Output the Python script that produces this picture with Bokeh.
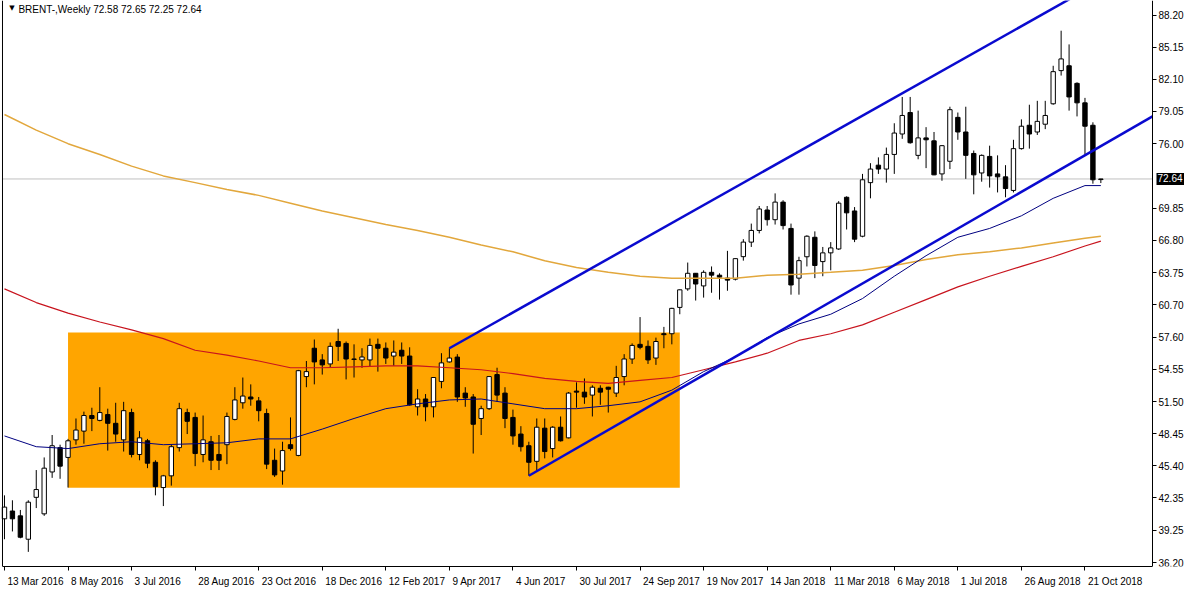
from bokeh.plotting import figure
from bokeh.models import (Range1d, FixedTicker, PrintfTickFormatter, Label, Span,
                          LinearAxis)
from bokeh.embed import file_html
from bokeh.resources import INLINE

# ---------------- data (weekly candles, week 0 = 13 Mar 2016) ----------------
opens = [40.36, 41.10, 40.64, 38.42, 42.40, 40.83, 44.81, 47.12, 46.19, 47.86,
         48.69, 50.17, 49.71, 50.26, 49.43, 47.86, 50.45, 46.47, 47.77, 45.73,
         43.33, 44.44, 47.12, 50.45, 49.99, 46.47, 47.68, 46.47, 47.40, 49.80,
         51.38, 51.93, 51.56, 50.36, 45.92, 44.90, 47.40, 46.38, 53.87, 56.56,
         55.45, 55.07, 57.20, 57.02, 55.54, 55.45, 55.45, 56.93, 56.56, 55.82,
         56.37, 55.82, 51.00, 51.74, 51.00, 53.41, 55.26, 55.72, 52.30, 51.93,
         49.89, 50.82, 54.06, 52.30, 49.99, 48.41, 47.30, 45.82, 48.97, 47.03,
         49.06, 48.05, 52.49, 52.39, 52.11, 52.76, 52.86, 52.30, 53.87, 55.54,
         56.93, 56.74, 55.63, 57.94, 57.94, 60.44, 62.20, 63.68, 62.48, 63.77,
         63.50, 63.22, 63.12, 65.26, 66.64, 67.75, 69.69, 68.77, 70.44, 67.94,
         63.22, 65.25, 67.10, 64.79, 65.62, 65.99, 70.90, 69.60, 67.20, 72.29,
         73.95, 73.58, 74.97, 76.91, 78.95, 74.88, 76.54, 76.26, 73.12, 74.32,
         78.49, 77.10, 75.06, 73.21, 74.78, 73.12, 72.84, 71.55, 75.52, 77.74,
         77.10, 77.84, 79.78, 82.93, 83.39, 81.72, 79.87, 77.74, 72.58]
highs = [42.59, 42.12, 41.20, 42.12, 44.99, 46.19, 48.32, 47.40, 47.95, 49.89,
         50.54, 50.91, 52.86, 50.82, 51.38, 51.47, 50.82, 48.69, 47.95, 45.92,
         44.53, 47.40, 51.38, 50.82, 50.45, 50.17, 48.23, 48.32, 50.45, 52.86,
         53.78, 53.13, 51.93, 50.82, 47.03, 47.68, 49.99, 54.50, 55.35, 57.39,
         56.00, 57.11, 58.41, 57.20, 56.93, 56.56, 57.48, 57.48, 57.11, 57.30,
         57.11, 56.65, 52.67, 52.21, 53.78, 56.09, 56.56, 56.00, 52.86, 52.21,
         51.10, 53.90, 54.71, 52.86, 50.73, 49.16, 47.68, 49.89, 49.89, 49.16,
         50.08, 52.40, 53.32, 53.69, 53.04, 53.04, 52.90, 54.89, 56.00, 57.02,
         59.52, 57.30, 57.57, 58.59, 60.40, 62.15, 64.70, 63.70, 63.96, 64.33,
         63.68, 65.81, 65.10, 66.92, 68.40, 70.07, 70.07, 71.27, 70.62, 68.40,
         65.25, 67.29, 67.66, 66.18, 66.64, 70.53, 70.99, 69.97, 73.12, 74.14,
         74.69, 75.62, 77.93, 80.43, 80.43, 79.13, 77.56, 77.10, 75.85, 79.50,
         78.95, 79.50, 75.34, 74.97, 75.80, 74.88, 73.95, 76.36, 78.30, 79.69,
         80.06, 80.06, 83.39, 86.72, 85.42, 81.82, 80.34, 78.02, 72.65]
lows = [38.42, 39.16, 38.51, 37.22, 41.38, 40.64, 44.25, 44.16, 43.33, 47.40,
        47.49, 48.69, 49.62, 46.84, 47.68, 46.75, 46.19, 45.92, 45.17, 42.59,
        41.57, 43.51, 46.75, 48.41, 45.36, 45.73, 44.99, 44.99, 45.55, 49.71,
        50.82, 51.10, 49.62, 45.08, 44.34, 43.60, 46.84, 46.30, 52.86, 53.13,
        54.06, 54.71, 55.35, 53.60, 53.78, 54.71, 54.80, 54.34, 55.07, 54.89,
        55.07, 51.10, 50.17, 49.62, 49.99, 52.76, 55.20, 51.47, 51.00, 46.56,
        48.32, 50.70, 51.47, 48.97, 47.40, 46.75, 44.45, 44.99, 46.10, 46.19,
        47.70, 48.00, 50.91, 51.28, 50.08, 51.19, 50.45, 51.93, 53.04, 55.07,
        56.46, 55.07, 54.98, 56.56, 56.93, 59.79, 62.02, 61.09, 61.37, 61.83,
        61.18, 62.02, 63.00, 64.88, 66.18, 67.47, 68.21, 68.31, 67.84, 61.65,
        61.65, 64.33, 63.22, 63.40, 63.96, 65.90, 67.84, 66.64, 67.10, 70.80,
        73.12, 72.29, 73.12, 76.45, 75.99, 74.51, 73.67, 73.00, 72.47, 73.58,
        76.36, 72.65, 71.18, 72.38, 71.82, 71.36, 70.90, 71.36, 75.43, 75.52,
        76.82, 77.37, 79.69, 82.46, 79.13, 78.58, 74.97, 72.19, 72.25]
closes = [41.47, 40.36, 38.61, 41.94, 43.14, 45.17, 47.30, 45.36, 47.77, 48.79,
          50.17, 49.89, 50.45, 49.43, 48.41, 50.63, 46.47, 48.05, 45.64, 43.42,
          44.44, 47.21, 50.82, 49.62, 46.56, 47.86, 45.92, 45.92, 50.08, 51.65,
          52.02, 51.74, 50.63, 45.55, 44.53, 46.84, 47.03, 54.43, 54.34, 55.26,
          54.98, 56.74, 56.74, 55.54, 55.50, 55.73, 56.83, 56.56, 55.63, 56.19,
          55.82, 51.19, 51.74, 51.00, 53.78, 55.17, 55.63, 51.93, 51.84, 49.34,
          50.82, 53.87, 52.11, 49.89, 48.23, 47.21, 45.73, 49.06, 46.75, 49.06,
          47.77, 52.30, 52.39, 51.93, 52.86, 52.39, 52.67, 53.78, 55.54, 56.83,
          56.65, 55.45, 57.20, 57.85, 60.35, 62.11, 63.68, 62.66, 63.77, 63.50,
          63.31, 63.03, 65.07, 66.64, 67.75, 69.79, 68.77, 70.44, 68.21, 62.57,
          64.88, 67.20, 64.42, 65.62, 66.09, 70.34, 69.42, 66.92, 72.56, 73.58,
          73.58, 74.97, 77.00, 78.67, 76.08, 76.54, 76.36, 73.03, 75.80, 79.22,
          77.10, 74.88, 73.03, 74.88, 72.93, 72.84, 71.73, 75.52, 77.65, 76.91,
          78.11, 78.67, 82.83, 84.04, 80.43, 79.87, 77.65, 72.56, 72.64]
weeks = list(range(len(closes)))

# date axis labels (one every 8 weeks)
tick_weeks = list(range(0, 137, 8))
tick_labels = ["13 Mar 2016", "8 May 2016", "3 Jul 2016", "28 Aug 2016",
               "23 Oct 2016", "18 Dec 2016", "12 Feb 2017", "9 Apr 2017",
               "4 Jun 2017", "30 Jul 2017", "24 Sep 2017", "19 Nov 2017",
               "14 Jan 2018", "11 Mar 2018", "6 May 2018", "1 Jul 2018",
               "26 Aug 2018", "21 Oct 2018"]

# price axis labels
price_ticks = [88.20, 85.15, 82.10, 79.05, 76.00, 69.85, 66.80, 63.75,
               60.70, 57.60, 54.55, 51.50, 48.45, 45.40, 42.35, 39.25, 36.20]

# moving averages (read every 4 weeks)
ma_weeks = list(range(0, 137, 4)) + [138]
ma_gold = [78.76, 77.28, 75.99, 74.97, 73.86, 72.93, 72.29, 71.64, 71.08, 70.34,
           69.60, 68.95, 68.31, 67.75, 67.10, 66.36, 65.72, 64.88, 64.24, 63.77,
           63.40, 63.22, 63.22, 63.22, 63.50, 63.59, 63.77, 63.96, 64.42, 64.98,
           65.44, 65.72, 66.09, 66.55, 67.01, 67.20]
ma_red = [62.20, 60.90, 59.89, 59.05, 58.31, 57.48, 56.37, 55.91, 55.35, 54.71,
          54.71, 54.80, 54.89, 54.89, 54.71, 54.52, 54.15, 53.69, 53.41, 53.22,
          53.50, 53.78, 54.52, 55.26, 56.09, 57.30, 57.94, 58.78, 59.98, 61.18,
          62.39, 63.40, 64.33, 65.25, 66.27, 66.73]
ma_blue = [48.23, 47.21, 47.03, 47.49, 47.68, 47.40, 47.49, 47.58, 47.95, 47.95,
           48.88, 49.89, 50.82, 51.28, 51.65, 51.74, 51.28, 50.82, 50.82, 51.10,
           51.47, 52.58, 54.34, 55.72, 57.57, 58.87, 59.79, 61.28, 63.40, 65.35,
           67.10, 67.94, 69.14, 70.80, 72.01, 72.01]

# drawn objects
box_weeks = [8, 85]
box_prices = [43.30, 58.05]
upper_anchor_weeks = [56, 74.5]
upper_anchor_prices = [56.56, 64.42]
lower_anchor_weeks = [66, 144.5]
lower_anchor_prices = [44.45, 78.58]
last_price = 72.64

# ---------------- figure ----------------
FONT = "Liberation Sans"
XS = -0.5                      # canvas left edge (weeks)
XL, XB = -0.25, 144.5          # chart left border / price-scale border (weeks)
CANVAS_W = 1184
BORDER_PX = 1152                # where the price scale begins
PX_PER_WEEK = BORDER_PX / (XB - XS)
X1 = XS + CANVAS_W / PX_PER_WEEK
Y0, Y1 = 35.83, 89.59

p = figure(frame_width=CANVAS_W, frame_height=566, output_backend="svg",
           toolbar_location=None, x_range=Range1d(XS, X1),
           y_range=Range1d(Y0, Y1), y_axis_location="right",
           min_border_left=0, min_border_top=0, min_border_right=0,
           min_border_bottom=0)
p.xgrid.visible = False
p.ygrid.visible = False
p.outline_line_color = None
p.background_fill_color = "white"
p.border_fill_color = "white"

# left border of the chart window
p.add_layout(Span(location=XL, dimension="height", line_color="black",
                  line_width=1))

# orange rectangle
p.quad(left=[box_weeks[0]], right=[box_weeks[1]], bottom=[box_prices[0]],
       top=[box_prices[1]], fill_color="#FFA500", line_color=None)

# last price line (stops at the price scale)
p.line([XL, XB], [last_price, last_price], line_color="#C0C0C0", line_width=1)

# candles
bull = [c >= o for o, c in zip(opens, closes)]
tops = [max(o, c) for o, c in zip(opens, closes)]
bots = [min(o, c) for o, c in zip(opens, closes)]
fills = ["white" if b else "black" for b in bull]
p.segment(x0=weeks, y0=lows, x1=weeks, y1=highs, line_color="black", line_width=1)
p.vbar(x=weeks, width=0.55, top=tops, bottom=bots, fill_color=fills,
       line_color="black", line_width=1)

# moving averages
p.line(ma_weeks, ma_gold, line_color="#E2A73C", line_width=1.5)
p.line(ma_weeks, ma_red, line_color="#C8141E", line_width=1.2)
p.line(ma_weeks, ma_blue, line_color="#000080", line_width=1)

# channel lines (rays extended to the price scale)
def ray(wk, pr, end_week):
    slope = (pr[1] - pr[0]) / (wk[1] - wk[0])
    return [wk[0], end_week], [pr[0], pr[0] + slope * (end_week - wk[0])]

ux, uy = ray(upper_anchor_weeks, upper_anchor_prices, XB)
lx, ly = ray(lower_anchor_weeks, lower_anchor_prices, XB)
p.line(ux, uy, line_color="#0A0ACF", line_width=2.5)
p.line(lx, ly, line_color="#0A0ACF", line_width=2.5)

# ---- x axis: tick marks at the bar, label text starting just right of it ----
xa = p.xaxis[0]
xa.ticker = FixedTicker(ticks=tick_weeks)
xa.bounds = (XL, XB)
xa.major_label_overrides = {w: "" for w in tick_weeks}
xa.major_label_text_font_size = "1px"
xa.major_label_standoff = 0
xa.minor_tick_line_color = None
xa.major_tick_in = 0
xa.major_tick_out = 4
xa.axis_line_color = "black"

# approximate text widths (Liberation Sans 10px) to left-align the labels
CW = {"M": 8.33, "J": 5.0, "A": 6.67, "O": 7.78, "D": 7.22, "F": 6.11,
      "S": 6.67, "N": 7.22, "a": 5.56, "r": 3.33, "y": 5.0, "u": 5.56,
      "l": 2.22, "g": 5.56, "c": 5.0, "t": 2.78, "e": 5.56, "b": 5.56,
      "p": 5.56, "o": 5.56, "v": 5.0, "n": 5.56, " ": 2.78}
def text_w(s):
    return sum(CW.get(ch, 5.56) for ch in s)

label_pos = [w + (3 + text_w(s) / 2) / PX_PER_WEEK
             for w, s in zip(tick_weeks, tick_labels)]
xb = LinearAxis(ticker=FixedTicker(ticks=label_pos),
                major_label_overrides={lp: s for lp, s in zip(label_pos, tick_labels)},
                major_tick_line_color=None, minor_tick_line_color=None,
                axis_line_color=None, major_label_standoff=-1,
                major_label_text_font=FONT, major_label_text_font_size="10px",
                major_label_text_color="black")
p.add_layout(xb, "below")

# ---- price axis, drawn at the chart border ----
ya = p.yaxis[0]
ya.fixed_location = XB
ya.ticker = FixedTicker(ticks=price_ticks)
ya.formatter = PrintfTickFormatter(format="%.2f")
ya.minor_tick_line_color = None
ya.major_tick_in = 0
ya.major_tick_out = 4
ya.axis_line_color = "black"
ya.major_label_standoff = 2
ya.major_label_text_font = FONT
ya.major_label_text_font_size = "10px"
ya.major_label_text_color = "black"

# title inside chart
p.add_layout(Label(x=0.6, y=89.25, text="\u25BC", text_font="DejaVu Sans",
                   text_font_size="7px", text_baseline="top", text_color="black"))
p.add_layout(Label(x=1.75, y=89.3, text="BRENT-,Weekly  72.58 72.65 72.25 72.64",
                   text_font=FONT, text_font_size="10px", text_baseline="top",
                   text_color="black"))

# last price tag on the price scale
p.add_layout(Label(x=XB + 4 / PX_PER_WEEK, y=last_price, text="72.64",
                   text_font=FONT, text_font_size="10px", text_baseline="middle",
                   text_color="white", background_fill_color="black",
                   padding=(1, 3, 1, 3), level="overlay"))

open("out.html", "w").write(file_html(p, INLINE))
